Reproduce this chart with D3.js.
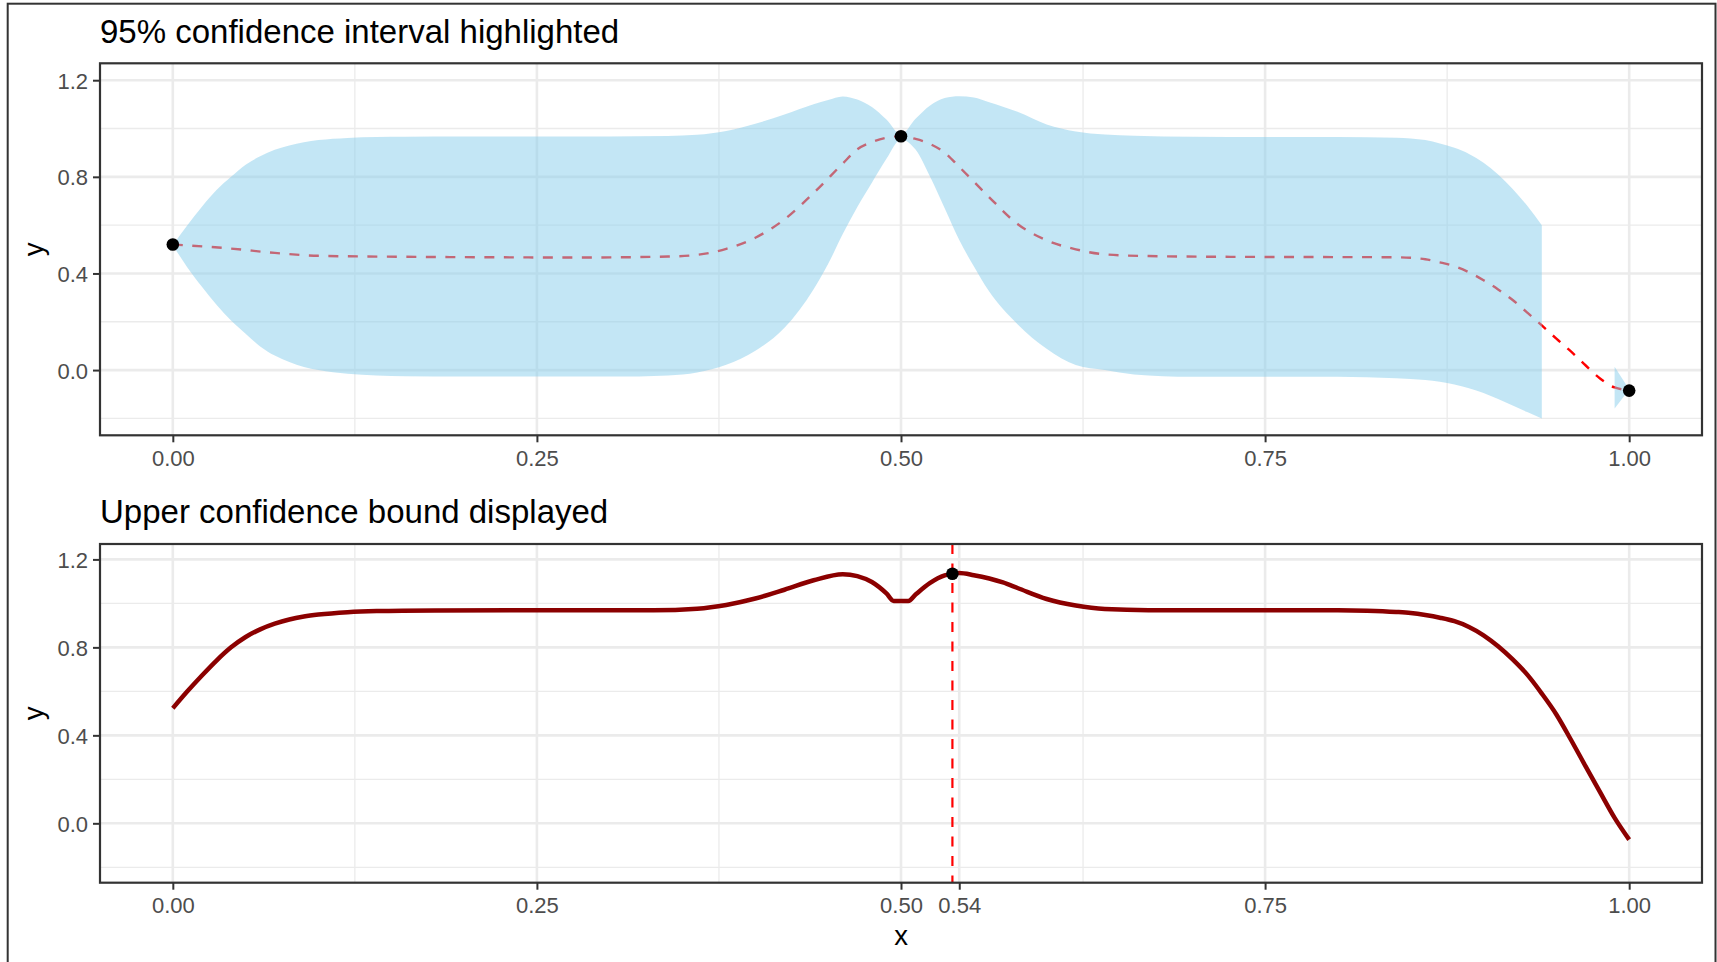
<!DOCTYPE html>
<html>
<head>
<meta charset="utf-8">
<script src="https://cdn.jsdelivr.net/npm/d3@7"></script>
<style>
  html, body { margin: 0; padding: 0; background: #ffffff; }
  svg { display: block; }
  text { font-family: "Liberation Sans", Arial, sans-serif; }
</style>
</head>
<body>
<svg id="chart" width="1717" height="962"></svg>
<script>
// ---------- data ----------
const titleTop = "95% confidence interval highlighted";
const titleBottom = "Upper confidence bound displayed";

// ribbon (95% CI) — null = not defined
const ribbonX     = [0, 0.01, 0.02, 0.03, 0.04, 0.05, 0.06, 0.07, 0.08, 0.09, 0.10, 0.12, 0.14, 0.16, 0.20, 0.25, 0.30, 0.34, 0.36, 0.38, 0.40, 0.42, 0.44, 0.45, 0.46, 0.47, 0.48, 0.49, 0.50, 0.51, 0.52, 0.53, 0.54, 0.55, 0.56, 0.58, 0.60, 0.62, 0.64, 0.66, 0.70, 0.75, 0.80, 0.84, 0.86, 0.87, 0.88, 0.89, 0.90, 0.91, 0.92, 0.93, 0.94, 0.95, 0.98, 0.99, 1.00];
const ribbonUpper = [0.517, 0.60, 0.676, 0.745, 0.80, 0.85, 0.885, 0.912, 0.93, 0.943, 0.952, 0.961, 0.965, 0.966, 0.967, 0.967, 0.967, 0.969, 0.974, 0.99, 1.02, 1.058, 1.10, 1.118, 1.133, 1.12, 1.089, 1.037, 0.975, 1.04, 1.095, 1.126, 1.134, 1.128, 1.11, 1.069, 1.017, 0.988, 0.975, 0.97, 0.966, 0.965, 0.965, 0.962, 0.952, 0.938, 0.92, 0.895, 0.858, 0.81, 0.75, 0.68, 0.60, null, null, 0.014, -0.08];
const ribbonLower = [0.517, 0.425, 0.345, 0.27, 0.205, 0.15, 0.098, 0.06, 0.033, 0.013, 0.0, -0.015, -0.022, -0.026, -0.027, -0.027, -0.027, -0.022, -0.01, 0.022, 0.08, 0.175, 0.335, 0.44, 0.563, 0.675, 0.776, 0.875, 0.955, 0.913, 0.80, 0.67, 0.538, 0.43, 0.33, 0.19, 0.088, 0.021, 0.0, -0.018, -0.028, -0.028, -0.028, -0.034, -0.041, -0.048, -0.06, -0.075, -0.095, -0.12, -0.147, -0.174, -0.20, null, null, -0.159, -0.08];

// posterior mean (dashed)
const meanX = [0, 0.04, 0.07, 0.10, 0.16, 0.22, 0.28, 0.34, 0.36, 0.38, 0.40, 0.42, 0.44, 0.46, 0.47, 0.48, 0.49, 0.50, 0.51, 0.52, 0.53, 0.54, 0.55, 0.56, 0.58, 0.60, 0.62, 0.64, 0.67, 0.72, 0.78, 0.84, 0.86, 0.87, 0.88, 0.89, 0.90, 0.91, 0.92, 0.93, 0.94, 0.95, 0.96, 0.97, 0.98, 0.99, 1.00];
const meanY = [0.52, 0.503, 0.485, 0.473, 0.469, 0.467, 0.466, 0.470, 0.477, 0.502, 0.548, 0.624, 0.733, 0.855, 0.914, 0.944, 0.962, 0.968, 0.957, 0.936, 0.90, 0.841, 0.78, 0.719, 0.605, 0.537, 0.50, 0.479, 0.472, 0.469, 0.468, 0.467, 0.459, 0.446, 0.43, 0.405, 0.372, 0.334, 0.29, 0.238, 0.185, 0.13, 0.077, 0.02, -0.035, -0.072, -0.083];

// observed points
const obsX = [0, 0.5, 1.0];
const obsY = [0.52, 0.968, -0.085];

// upper confidence bound
const ucbX = [0, 0.01, 0.02, 0.03, 0.04, 0.05, 0.06, 0.07, 0.08, 0.09, 0.10, 0.12, 0.14, 0.18, 0.25, 0.33, 0.36, 0.38, 0.40, 0.42, 0.44, 0.46, 0.47, 0.48, 0.49, 0.495, 0.505, 0.51, 0.52, 0.53, 0.54, 0.55, 0.57, 0.58, 0.60, 0.62, 0.64, 0.67, 0.80, 0.82, 0.84, 0.85, 0.86, 0.87, 0.88, 0.89, 0.90, 0.91, 0.92, 0.93, 0.94, 0.95, 0.96, 0.97, 0.98, 0.99, 1.00];
const ucbY = [0.523, 0.60, 0.672, 0.74, 0.80, 0.847, 0.882, 0.908, 0.927, 0.94, 0.949, 0.960, 0.965, 0.968, 0.969, 0.969, 0.976, 0.993, 1.022, 1.062, 1.105, 1.133, 1.124, 1.097, 1.045, 1.011, 1.011, 1.04, 1.093, 1.127, 1.138, 1.128, 1.095, 1.07, 1.02, 0.99, 0.974, 0.969, 0.969, 0.967, 0.961, 0.956, 0.947, 0.935, 0.919, 0.893, 0.855, 0.805, 0.745, 0.676, 0.59, 0.495, 0.38, 0.26, 0.142, 0.025, -0.074];

const bestX = 0.5353;
const bestY = 1.135;

// axis ticks
const xBreaksTop = [0, 0.25, 0.5, 0.75, 1.0];
const xLabelsTop = ["0.00", "0.25", "0.50", "0.75", "1.00"];
const xBreaksBottom = [0, 0.25, 0.5, 0.54, 0.75, 1.0];
const xLabelsBottom = ["0.00", "0.25", "0.50", "0.54", "0.75", "1.00"];
const xMinorTop = [0.125, 0.375, 0.625, 0.875];
const xMinorBottom = [0.125, 0.375, 0.625];
const yBreaks = [0, 0.4, 0.8, 1.2];
const yLabels = ["0.0", "0.4", "0.8", "1.2"];
const yMinor = [-0.2, 0.2, 0.6, 1.0];

// ---------- drawing ----------
const svg = d3.select("#chart");
const left = 100, right = 1702;
const x = d3.scaleLinear().domain([-0.05, 1.05]).range([left, right]);

// outer frame
svg.append("rect").attr("x", 7.7).attr("y", 3.7).attr("width", 1707.8).attr("height", 1000)
  .attr("fill", "none").attr("stroke", "#333333").attr("stroke-width", 2);

function panel(top, bottom, xBreaks, xLabels, xMinor, title, titleBaseline, showXTitle) {
  const y = d3.scaleLinear().domain([-0.27, 1.27]).range([bottom, top]);
  const g = svg.append("g");
  g.selectAll(".ymin").data(yMinor).join("line")
    .attr("x1", left).attr("x2", right).attr("y1", d => y(d)).attr("y2", d => y(d))
    .attr("stroke", "#EBEBEB").attr("stroke-width", 1.3);
  g.selectAll(".xmin").data(xMinor).join("line")
    .attr("y1", top).attr("y2", bottom).attr("x1", d => x(d)).attr("x2", d => x(d))
    .attr("stroke", "#EBEBEB").attr("stroke-width", 1.3);
  g.selectAll(".ymaj").data(yBreaks).join("line")
    .attr("x1", left).attr("x2", right).attr("y1", d => y(d)).attr("y2", d => y(d))
    .attr("stroke", "#EBEBEB").attr("stroke-width", 2.6);
  g.selectAll(".xmaj").data(xBreaks).join("line")
    .attr("y1", top).attr("y2", bottom).attr("x1", d => x(d)).attr("x2", d => x(d))
    .attr("stroke", "#EBEBEB").attr("stroke-width", 2.6);

  const ax = d3.axisBottom(x).tickValues(xBreaks).tickSize(7).tickPadding(8)
    .tickFormat((d, i) => xLabels[i]);
  const gx = svg.append("g").attr("transform", `translate(0,${bottom})`).call(ax);
  gx.select(".domain").remove();
  gx.selectAll(".tick line").attr("stroke", "#333333").attr("stroke-width", 2);
  gx.selectAll(".tick text").attr("fill", "#4D4D4D").attr("font-size", 22)
    .attr("font-family", '"Liberation Sans", Arial, sans-serif').attr("dy", "0.71em");

  const ay = d3.axisLeft(y).tickValues(yBreaks).tickSize(7).tickPadding(5)
    .tickFormat((d, i) => yLabels[i]);
  const gy = svg.append("g").attr("transform", `translate(${left},0)`).call(ay);
  gy.select(".domain").remove();
  gy.selectAll(".tick line").attr("stroke", "#333333").attr("stroke-width", 2);
  gy.selectAll(".tick text").attr("fill", "#4D4D4D").attr("font-size", 22)
    .attr("font-family", '"Liberation Sans", Arial, sans-serif').attr("dy", "0.36em");

  svg.append("text").attr("x", left).attr("y", titleBaseline).text(title)
    .attr("font-size", 33).attr("fill", "#000");
  svg.append("text").attr("transform", `translate(43,${(top + bottom) / 2}) rotate(-90)`)
    .attr("text-anchor", "middle").attr("font-size", 27.5).attr("fill", "#000").text("y");
  if (showXTitle) {
    svg.append("text").attr("x", (left + right) / 2).attr("y", 945)
      .attr("text-anchor", "middle").attr("font-size", 27.5).attr("fill", "#000").text("x");
  }
  return {y, g};
}

// ---- top panel ----
const topP = panel(63.3, 435.3, xBreaksTop, xLabelsTop, xMinorTop, titleTop, 42.7, false);
const yT = topP.y;

const meanLine = d3.line().x(i => x(meanX[i])).y(i => yT(meanY[i])).curve(d3.curveMonotoneX);
svg.append("path").attr("d", meanLine(d3.range(meanX.length)))
  .attr("fill", "none").attr("stroke", "#FF0000").attr("stroke-width", 2.4)
  .attr("stroke-dasharray", "10,9.5");

const ribbon = d3.area()
  .defined(i => ribbonUpper[i] !== null && ribbonLower[i] !== null)
  .x(i => x(ribbonX[i])).y0(i => yT(ribbonLower[i])).y1(i => yT(ribbonUpper[i]))
  .curve(d3.curveMonotoneX);
svg.append("path").attr("d", ribbon(d3.range(ribbonX.length)))
  .attr("fill", "#87CEEB").attr("fill-opacity", 0.5).attr("stroke", "none");

svg.selectAll(".obs").data(d3.range(obsX.length)).join("circle")
  .attr("cx", i => x(obsX[i])).attr("cy", i => yT(obsY[i])).attr("r", 6.3).attr("fill", "#000");

svg.append("rect").attr("x", left).attr("y", 63.3).attr("width", right - left).attr("height", 435.3 - 63.3)
  .attr("fill", "none").attr("stroke", "#333333").attr("stroke-width", 2.2);

// ---- bottom panel ----
const botP = panel(544, 882.7, xBreaksBottom, xLabelsBottom, xMinorBottom, titleBottom, 522.7, true);
const yB = botP.y;
const ucbLine = d3.line().x(i => x(ucbX[i])).y(i => yB(ucbY[i])).curve(d3.curveMonotoneX);
svg.append("path").attr("d", ucbLine(d3.range(ucbX.length)))
  .attr("fill", "none").attr("stroke", "#8B0000").attr("stroke-width", 4.5)
  .attr("stroke-linejoin", "round");

svg.append("line").attr("x1", x(bestX)).attr("x2", x(bestX)).attr("y1", 544).attr("y2", 882.7)
  .attr("stroke", "#FF0000").attr("stroke-width", 2.2).attr("stroke-dasharray", "10,9.5");

svg.append("circle").attr("cx", x(bestX)).attr("cy", yB(bestY)).attr("r", 6.3).attr("fill", "#000");

svg.append("rect").attr("x", left).attr("y", 544).attr("width", right - left).attr("height", 882.7 - 544)
  .attr("fill", "none").attr("stroke", "#333333").attr("stroke-width", 2.2);
</script>
</body>
</html>
